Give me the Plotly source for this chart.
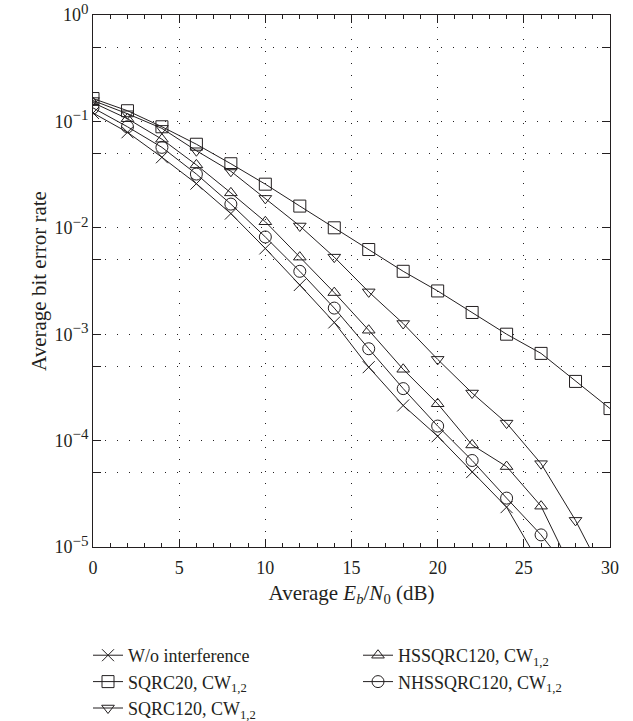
import plotly.graph_objects as go

# Average Eb/N0 (dB)
snr_db = [0, 2, 4, 6, 8, 10, 12, 14, 16, 18, 20, 22, 24, 26, 28, 30]

# Average bit error rate per scheme
ber_no_interf = [0.120, 0.079, 0.046, 0.026, 0.0136, 0.0064, 0.0029, 0.00129,
                 0.00049, 0.000214, 0.00011, 5.06e-5, 2.37e-5, 6.6e-6]
ber_sqrc20 = [0.164, 0.126, 0.089, 0.061, 0.040, 0.0257, 0.016, 0.0100,
              0.00625, 0.0039, 0.00255, 0.0016, 0.00100, 0.00066, 0.00036, 0.0002]
ber_sqrc120 = [0.157, 0.118, 0.086, 0.053, 0.034, 0.0189, 0.0104, 0.0053,
               0.0025, 0.00126, 0.00058, 0.00028, 0.000146, 6.07e-5, 1.78e-5, 4.2e-6]
ber_hssqrc120 = [0.150, 0.106, 0.068, 0.039, 0.0213, 0.0114, 0.0053, 0.00246,
                 0.00109, 0.000468, 0.000222, 9.1e-5, 5.7e-5, 2.42e-5, 5.2e-6]
ber_nhssqrc120 = [0.134, 0.089, 0.057, 0.032, 0.0167, 0.0082, 0.0039, 0.00176,
                  0.00073, 0.000308, 0.000137, 6.5e-5, 2.88e-5, 1.3e-5, 5e-6]

x_ticks = [0, 5, 10, 15, 20, 25, 30]
y_tick_exps = [-5, -4, -3, -2, -1, 0]

INK = "#231f20"
FONT = "Liberation Serif, Times New Roman, serif"

# (legend text, values, marker, marker size, legend column, order in column)
series = [
    ("W/o interference", ber_no_interf, "x-thin-open", 12, "legend", 1),
    ("SQRC20, CW<sub>1,2</sub>", ber_sqrc20, "square-open", 12, "legend", 2),
    ("SQRC120, CW<sub>1,2</sub>", ber_sqrc120, "triangle-down-open", 11, "legend", 3),
    ("HSSQRC120, CW<sub>1,2</sub>", ber_hssqrc120, "triangle-up-open", 11, "legend2", 1),
    ("NHSSQRC120, CW<sub>1,2</sub>", ber_nhssqrc120, "circle-open", 12, "legend2", 2),
]

fig = go.Figure()
for name, ys, sym, size, leg, rank in series:
    fig.add_trace(go.Scatter(
        x=snr_db[:len(ys)], y=ys, name=name, mode="lines+markers",
        line=dict(color=INK, width=1),
        marker=dict(symbol=sym, size=size, color=INK, line=dict(color=INK, width=1)),
        legend=leg, legendrank=rank, cliponaxis=True,
    ))


def pow_label(e):
    txt = "0" if e == 0 else "\u2212%d" % -e
    return "10<sup><span style='font-size:15px'>%s</span></sup>" % txt


y_minor = [5 * 10 ** e for e in range(-5, 0)]

# each legend is a single column: wide entries force one item per row
legend_style = dict(
    orientation="h", xref="container", yref="container",
    xanchor="left", yanchor="top", entrywidth=230, tracegroupgap=0,
    itemwidth=30, font=dict(family=FONT, size=18, color=INK),
    bgcolor="rgba(0,0,0,0)",
)

fig.update_layout(
    width=633, height=721,
    margin=dict(l=93, r=23, t=15, b=174),
    paper_bgcolor="white", plot_bgcolor="white",
    font=dict(family=FONT, size=18, color=INK),
    showlegend=True,
    legend=dict(legend_style, x=88 / 633, y=0.1165),
    legend2=dict(legend_style, x=358 / 633, y=0.1165),
    xaxis=dict(
        range=[0, 30], tickvals=x_ticks, ticktext=[str(v) for v in x_ticks],
        automargin=False,
        ticks="inside", ticklen=8, tickwidth=1, tickcolor=INK,
        ticklabelstandoff=4,
        showline=True, linecolor=INK, linewidth=1, mirror="allticks",
        showgrid=True, gridcolor=INK, gridwidth=1, griddash="1px,11px",
        zeroline=False,
        minor=dict(dtick=1, ticks="inside", ticklen=4, tickcolor=INK, showgrid=False),
        title=dict(text="Average <i>E<sub>b</sub></i>/<i>N</i><sub>0</sub> (dB)",
                   font=dict(family=FONT, size=21, color=INK), standoff=8),
        tickfont=dict(family=FONT, size=18, color=INK),
    ),
    yaxis=dict(
        type="log", range=[-5, 0],
        automargin=False,
        tickvals=[10 ** e for e in y_tick_exps],
        ticktext=[pow_label(e) for e in y_tick_exps],
        ticks="inside", ticklen=8, tickwidth=1, tickcolor=INK,
        showline=True, linecolor=INK, linewidth=1, mirror="allticks",
        showgrid=True, gridcolor=INK, gridwidth=1, griddash="1px,11px",
        zeroline=False,
        minor=dict(tickvals=y_minor, ticks="inside", ticklen=8, tickcolor=INK,
                   showgrid=True, gridcolor=INK, griddash="1px,11px", gridwidth=1),
        title=dict(text="Average bit error rate",
                   font=dict(family=FONT, size=21, color=INK), standoff=2),
        tickfont=dict(family=FONT, size=18, color=INK),
    ),
)

fig.write_html("out.html")
